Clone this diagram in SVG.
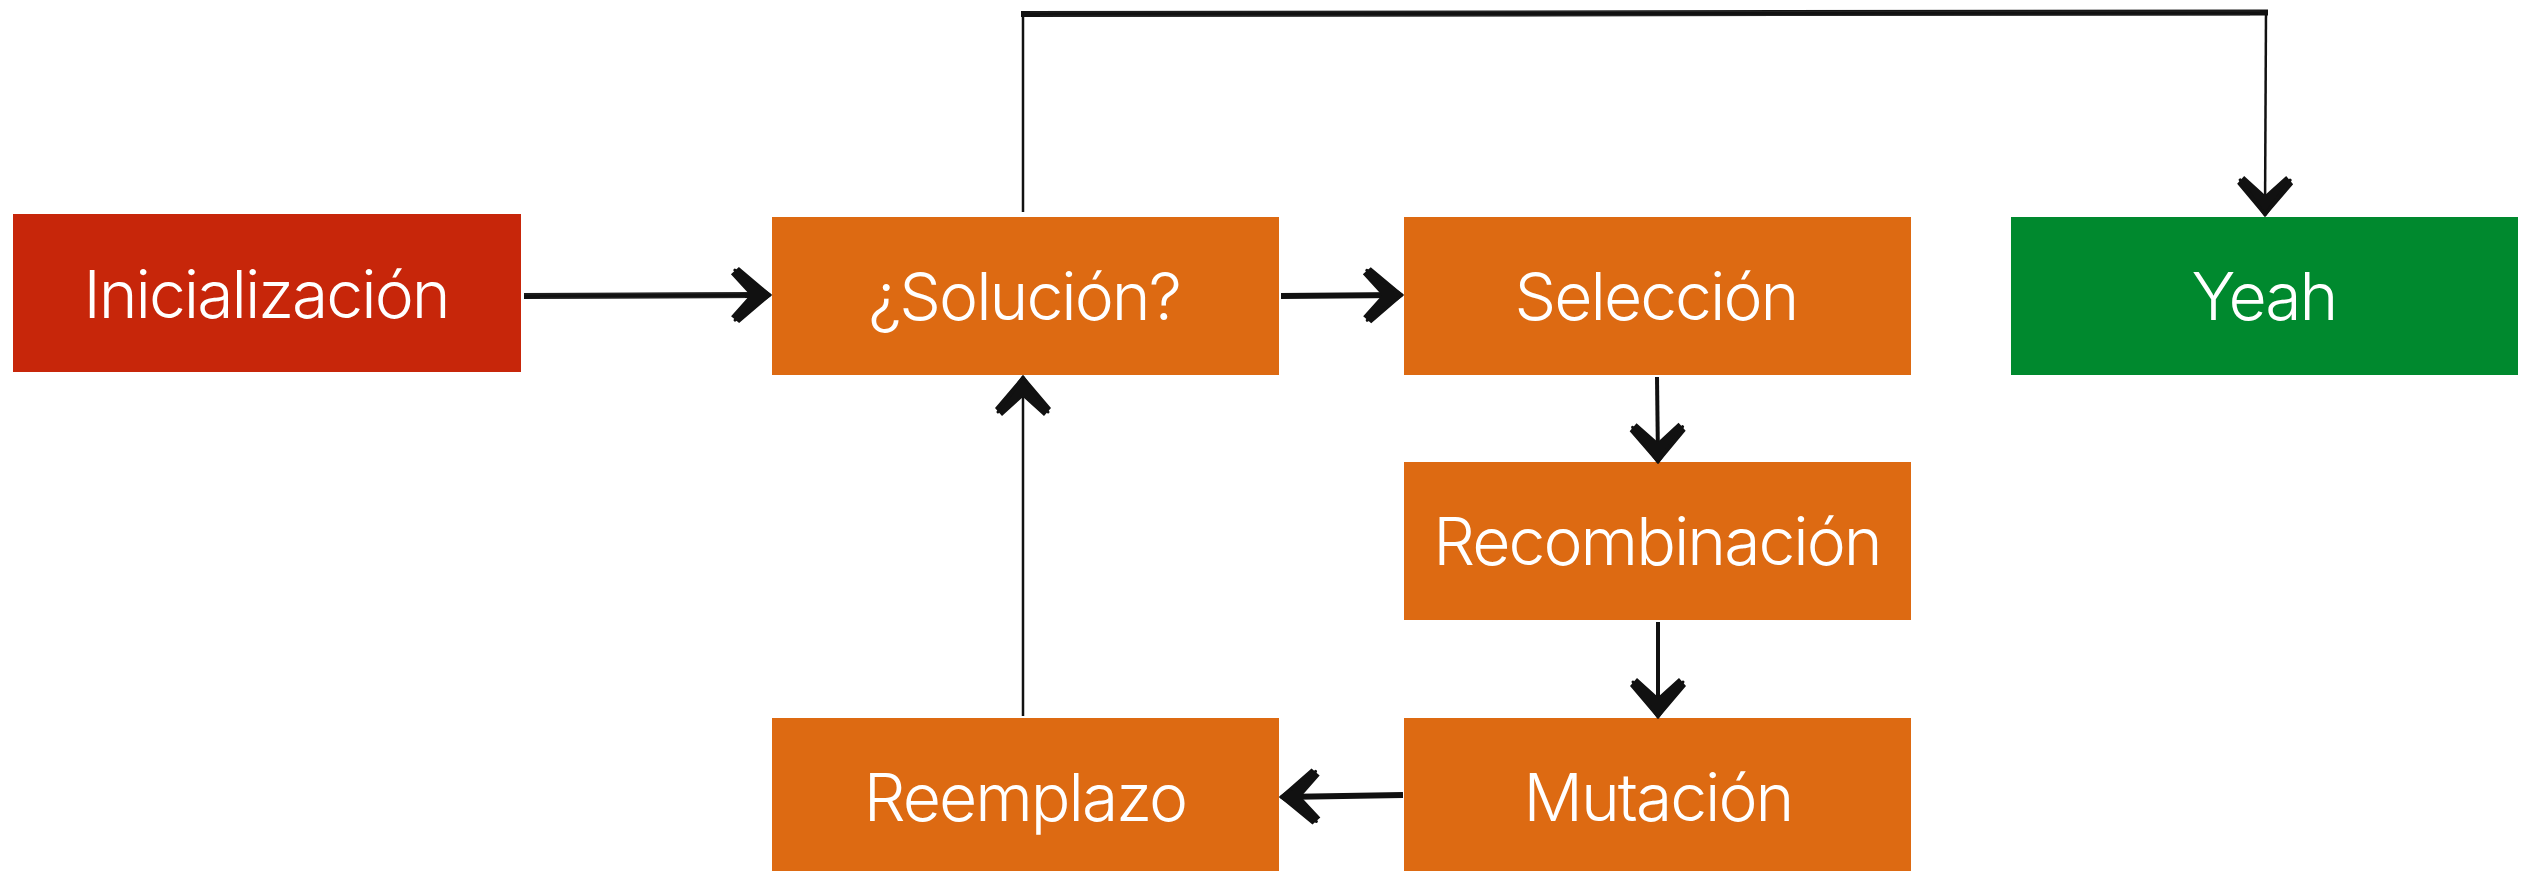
<svg xmlns="http://www.w3.org/2000/svg" width="2528" height="871" viewBox="0 0 2528 871">
<style>
.box{stroke:none}
.red{fill:#C7260A}
.orange{fill:#DD6A12}
.green{fill:#00892E}
.lbl{font-family:Inter,"Liberation Sans",Arial,sans-serif;font-weight:300;font-size:66px;letter-spacing:-2px;fill:#ffffff;text-anchor:middle}
.h{fill:none;stroke:#111;stroke-width:6;stroke-linecap:butt}
.v{fill:none;stroke:#111;stroke-width:4;stroke-linecap:butt}
.t{fill:none;stroke:#111;stroke-width:2.5;stroke-linecap:butt}
.sk{fill:none;stroke:#333;stroke-width:1;opacity:0.6}
</style>
<defs>
<marker id="head" markerUnits="userSpaceOnUse" viewBox="-40 -30 46 60" markerWidth="46" markerHeight="60" refX="0" refY="0" orient="auto" overflow="visible">
<path d="M4,0 L-29,-28 L-37,-21 L-18,0 L-37,21 L-29,28 Z" fill="#111"/>
<path d="M2,0 L-33,-25 M2,0 L-33,25" stroke="#111" stroke-width="3" stroke-linecap="round" fill="none"/>
</marker>
</defs>
<rect width="2528" height="871" fill="#ffffff"/>

<g id="n-inicializacion"><rect class="box red" x="13" y="214" width="508" height="158"/><text class="lbl" x="266" y="318">Inicialización</text></g>
<g id="n-solucion"><rect class="box orange" x="772" y="217" width="507" height="158"/><text class="lbl" x="1024" y="320">¿Solución?</text></g>
<g id="n-seleccion"><rect class="box orange" x="1404" y="217" width="507" height="158"/><text class="lbl" x="1656" y="320">Selección</text></g>
<g id="n-yeah"><rect class="box green" x="2011" y="217" width="507" height="158"/><text class="lbl" x="2264" y="320">Yeah</text></g>
<g id="n-recombinacion"><rect class="box orange" x="1404" y="462" width="507" height="158"/><text class="lbl" x="1657" y="565">Recombinación</text></g>
<g id="n-mutacion"><rect class="box orange" x="1404" y="718" width="507" height="158"/><text class="lbl" x="1658" y="821">Mutación</text></g>
<g id="n-reemplazo"><rect class="box orange" x="772" y="718" width="507" height="158"/><text class="lbl" x="1025" y="821">Reemplazo</text></g>

<g id="connectors">
<path class="h" d="M524,296 L768,295" marker-end="url(#head)"/>
<path class="sk" d="M524,294 L740,293 M540,298 L745,297.5"/>
<path class="h" d="M1281,296 L1400,295" marker-end="url(#head)"/>
<path class="v" d="M1657,377 L1658,460" marker-end="url(#head)"/>
<path class="v" d="M1658,622 L1658,715" marker-end="url(#head)"/>
<path class="h" d="M1403,795 L1283,797" marker-end="url(#head)"/>
<path class="t" d="M1023,716 L1023,379" marker-end="url(#head)"/>
<path class="t" d="M1023,212 L1023,11"/>
<path class="h" d="M1021,14 L2268,12.5"/>
<path class="sk" d="M1030,12 L2260,11 M1040,16 L2250,15"/>
<path class="t" d="M2266,11 L2265,213" marker-end="url(#head)"/>
</g>
</svg>
